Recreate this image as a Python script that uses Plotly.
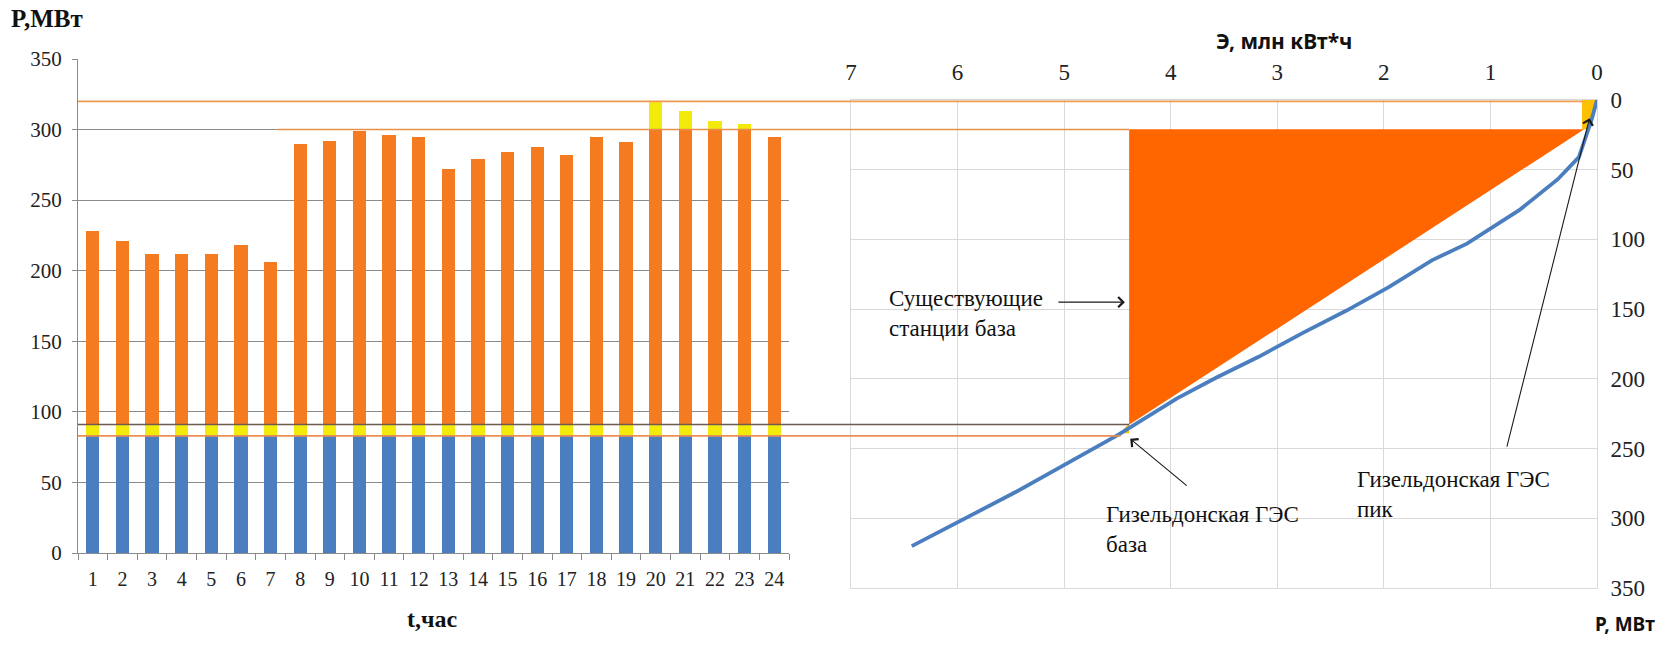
import plotly.graph_objects as go

W, H = 1678, 645

# ---------------- left chart: hourly load, stacked by station ----------------
hours = [str(h) for h in range(1, 25)]
base_mw = [83] * 24                      # blue base block
gizeldon_base_mw = [8] * 24              # Гизельдонская ГЭС, base part
existing_var_mw = [137, 130, 121, 121, 121, 127, 115, 199, 201, 208, 205, 204,
                   181, 188, 193, 197, 191, 204, 200, 209, 209, 209, 209, 204]
gizeldon_peak_mw = [0, 0, 0, 0, 0, 0, 0, 0, 0, 0, 0, 0,
                    0, 0, 0, 0, 0, 0, 0, 20, 13, 6, 4, 0]

# ---------------- right chart: integral load curve (ИКН) ----------------
ikn_energy = [0, 0.05, 0.17, 0.37, 0.73, 1.01, 1.22, 1.55, 1.95, 2.35, 2.76,
              3.17, 3.57, 3.94, 4.49, 5.45, 6.43]
ikn_depth = [0, 14, 41, 57, 79, 93, 103, 115, 134, 151, 167, 184, 199, 214,
             240, 281, 320]

existing_zone_E = [4.39, 0.12, 4.39]
existing_zone_P = [21, 21, 233]
peak_zone_E = [0.14, 0, 0.05, 0.08, 0.14]
peak_zone_P = [0, 0, 14, 21, 21]
base_zone_E = [4.39, 4.39, 4.48]
base_zone_P = [232, 239, 239]

e_ticks = [7, 6, 5, 4, 3, 2, 1, 0]
p_ticks = [0, 50, 100, 150, 200, 250, 300, 350]

# levels carried across both charts: (level MW, colour, start px, end E)
levels = [
    (320, "#EE9A50", 78, 0.13),
    (300, "#E8904A", 278, 4.39),
    (91, "#6E5A50", 78, 4.39),
    (83, "#E89050", 78, 4.47),
]

SERIF = "Liberation Serif"
SANS = "Noto Sans"

# plot areas (pixels)
L_X0, L_X1, L_Y0, L_Y1 = 78, 789, 59, 553
R_X0, R_X1, R_Y0, R_Y1 = 851, 1597, 100, 588


def px(x):
    return x / W


def py(y):
    return 1 - y / H


def e_to_paper(e):
    return px(R_X0 + (7 - e) / 7 * (R_X1 - R_X0))


fig = go.Figure()

bar_specs = [
    (base_mw, "#4A7EBF"),
    (gizeldon_base_mw, "#F2EA0A"),
    (existing_var_mw, "#F47B20"),
    (gizeldon_peak_mw, "#F2EA0A"),
]
for vals, col in bar_specs:
    fig.add_trace(go.Bar(x=hours, y=vals, marker=dict(color=col, line=dict(width=0)),
                         xaxis="x", yaxis="y", showlegend=False, hoverinfo="skip"))

fig.add_trace(go.Scatter(x=existing_zone_E, y=existing_zone_P, fill="toself",
                         fillcolor="#FF6600", line=dict(width=0), mode="lines",
                         xaxis="x2", yaxis="y2", showlegend=False, hoverinfo="skip"))
fig.add_trace(go.Scatter(x=peak_zone_E, y=peak_zone_P, fill="toself",
                         fillcolor="#FFC000", line=dict(width=0), mode="lines",
                         xaxis="x2", yaxis="y2", showlegend=False, hoverinfo="skip"))
fig.add_trace(go.Scatter(x=base_zone_E, y=base_zone_P, fill="toself",
                         fillcolor="#FFC000", line=dict(width=0), mode="lines",
                         xaxis="x2", yaxis="y2", showlegend=False, hoverinfo="skip"))
fig.add_trace(go.Scatter(x=ikn_energy, y=ikn_depth, mode="lines",
                         line=dict(color="#4A7EBF", width=3.8),
                         xaxis="x2", yaxis="y2", showlegend=False, hoverinfo="skip"))

shapes = []
for lvl, col, x_start, e_end in levels:
    shapes.append(dict(type="line", xref="paper", yref="y", x0=px(x_start),
                       x1=e_to_paper(e_end), y0=lvl, y1=lvl,
                       line=dict(color=col, width=1.6), layer="above"))

annotations = []


def text(s, x, y, size, family, bold=False, xanchor="left"):
    if bold:
        s = "<b>" + s + "</b>"
    annotations.append(dict(text=s, xref="paper", yref="paper", x=px(x), y=py(y),
                            xanchor=xanchor, yanchor="middle", showarrow=False,
                            align="left", font=dict(size=size, family=family, color="#111111")))


text("P,МВт", 9, 18, 25, SERIF, bold=True)
text("t,час", 432, 619, 24, SERIF, bold=True, xanchor="center")
text("Э, млн кВт*ч", 1284, 41, 21, SANS, bold=True, xanchor="center")
text("P, МВт", 1625, 624, 19, SANS, bold=True, xanchor="center")
text("Существующие<br>станции база", 887, 313, 23, SERIF)
text("Гизельдонская ГЭС<br>база", 1104, 529, 23, SERIF)
text("Гизельдонская ГЭС<br>пик", 1355, 494, 23, SERIF)


def arrow(e, p, ax, ay):
    annotations.append(dict(text="", xref="x2", yref="y2", x=e, y=p, ax=ax, ay=ay,
                            axref="pixel", ayref="pixel", showarrow=True,
                            arrowhead=4, arrowsize=1.8, arrowwidth=1.1,
                            arrowcolor="#1a1a1a"))


arrow(4.43, 145, -68, 0)
arrow(4.38, 243, 58, 48)
arrow(0.07, 13, -83, 330)

tick_font = dict(family=SERIF, size=21, color="#222222")
grid_dark = "#8A8A8A"
grid_light = "#D9D9D9"

fig.update_layout(
    width=W, height=H,
    margin=dict(l=0, r=0, t=0, b=0, autoexpand=False),
    paper_bgcolor="white", plot_bgcolor="white",
    barmode="stack", bargap=0.55,
    showlegend=False,
    shapes=shapes,
    annotations=annotations,
    xaxis=dict(domain=[px(L_X0), px(L_X1)], anchor="y", type="category",
               categoryorder="array", categoryarray=hours, automargin=False,
               showline=True, linecolor=grid_dark, linewidth=1.2,
               ticks="outside", tickson="boundaries", ticklen=6, tickcolor=grid_dark,
               tickfont=dict(family=SERIF, size=20, color="#222222"),
               ticklabelstandoff=8, showgrid=False),
    yaxis=dict(domain=[py(L_Y1), py(L_Y0)], anchor="x", range=[0, 350], dtick=50,
               automargin=False,
               showgrid=True, gridcolor=grid_dark, gridwidth=1.2, zeroline=False,
               showline=True, linecolor=grid_dark, linewidth=1.2,
               ticks="outside", ticklen=5, tickcolor=grid_dark,
               tickfont=tick_font, ticklabelstandoff=6),
    xaxis2=dict(domain=[px(R_X0), px(R_X1)], anchor="y2", side="top",
                range=[7, 0], tickvals=e_ticks, ticktext=[str(v) for v in e_ticks],
                automargin=False,
                showgrid=True, gridcolor=grid_light, zeroline=False,
                showline=True, mirror=True, linecolor=grid_light,
                ticks="", tickfont=dict(family=SERIF, size=23, color="#222222"),
                ticklabelstandoff=10),
    yaxis2=dict(domain=[py(R_Y1), py(R_Y0)], anchor="x2", side="right",
                range=[350, 0], tickvals=p_ticks, ticktext=[str(v) for v in p_ticks],
                automargin=False,
                showgrid=True, gridcolor=grid_light, zeroline=False,
                showline=True, mirror=True, linecolor=grid_light,
                ticks="", tickfont=dict(family=SERIF, size=23, color="#222222"),
                ticklabelstandoff=8),
)

fig.write_html("out.html")
